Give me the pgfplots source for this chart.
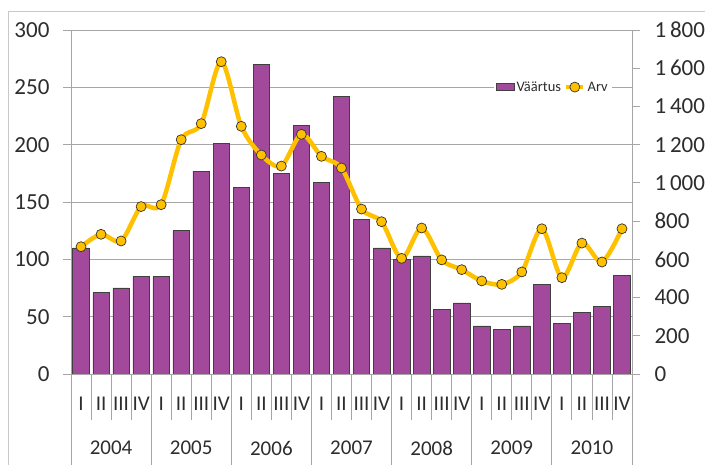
\documentclass[border=0pt]{standalone}
\usepackage{pgfplots}
\pgfplotsset{compat=1.18}
\usepackage{fontspec}
\setmainfont{Carlito}
\definecolor{barc}{RGB}{163,73,155}
\definecolor{linec}{RGB}{255,192,0}
\definecolor{gridc}{RGB}{166,166,166}
\definecolor{framec}{RGB}{200,200,200}
\definecolor{txt}{RGB}{45,45,45}
\begin{document}
\begin{tikzpicture}
\begin{axis}[
  at={(0,0)}, anchor=south west,
  scale only axis, width=561pt, height=344pt,
  xmin=-0.5, xmax=27.5, ymin=0, ymax=300,
  ybar, bar width=16.5pt,
  ytick={0,50,...,300},
  ymajorgrids, grid style={gridc, line width=0.8pt},
  axis line style={gridc, line width=0.8pt},
  ytick pos=left, xtick pos=bottom,
  tick align=outside,
  major tick length=8pt,
  minor tick length=46pt,
  tick style={gridc, line width=0.8pt},
  major x tick style={draw=none},
  xtick={0,...,27},
  xticklabels={I,II,III,IV,I,II,III,IV,I,II,III,IV,I,II,III,IV,I,II,III,IV,I,II,III,IV,I,II,III,IV},
  minor xtick={-0.5,0.5,...,27.5},
  xticklabel style={anchor=center, yshift=-22pt, font=\fontsize{21}{24}\selectfont, text=txt},
  yticklabel style={font=\fontsize{23}{26}\selectfont, text=txt, xshift=-10pt},
  /pgf/number format/assume math mode=true,
]
\addplot[fill=barc, draw=black!75, line width=0.6pt] coordinates {
(0,110) (1,71) (2,75) (3,85) (4,85) (5,125) (6,177) (7,201) (8,163) (9,270)
(10,175) (11,217) (12,167) (13,242) (14,135) (15,110) (16,100) (17,103) (18,56) (19,62)
(20,42) (21,39) (22,42) (23,78) (24,44) (25,54) (26,59) (27,86)};
\end{axis}
\begin{axis}[
  at={(0,0)}, anchor=south west,
  scale only axis, width=561pt, height=344pt,
  xmin=-0.5, xmax=27.5, ymin=0, ymax=1800,
  axis x line=none, axis y line*=right,
  ytick={0,200,...,1800},
  axis line style={gridc, line width=0.8pt},
  tick align=outside, major tick length=8pt,
  tick style={gridc, line width=0.8pt},
  yticklabel style={font=\fontsize{23}{26}\selectfont, text=txt, xshift=11pt},
  /pgf/number format/assume math mode=true,
  /pgf/number format/1000 sep={\hspace{0.17em}},
  legend columns=2,
  legend style={at={(0.859,0.834)}, anchor=center, draw=none, fill=white,
    font=\fontsize{14.5}{16}\selectfont, text=txt, inner xsep=2pt, inner ysep=1pt,
    /tikz/every even column/.append style={column sep=1pt}},
  clip=false,
]
\addlegendimage{legend image code/.code={\draw[fill=barc, draw=black!75, line width=0.5pt] (0pt,-3.5pt) rectangle (18pt,3.5pt);}}
\addlegendentry{Väärtus}
\addplot[smooth, color=linec, line width=4.5pt, mark=*, mark size=5pt,
  mark options={fill=linec, draw=black!80, line width=0.7pt}] coordinates {
(0,666) (1,731) (2,696) (3,876) (4,886) (5,1226) (6,1310) (7,1634) (8,1296) (9,1146)
(10,1088) (11,1254) (12,1139) (13,1078) (14,863) (15,797) (16,605) (17,764) (18,597) (19,546)
(20,487) (21,469) (22,534) (23,760) (24,504) (25,685) (26,586) (27,760)};
\addlegendentry{Arv}
\end{axis}
\foreach \i in {0,...,7} {
  \draw[gridc, line width=0.8pt] (\i*80.142857pt,0) -- (\i*80.142857pt,-91pt);
}
\foreach \y [count=\i from 0] in {2004,2005,2006,2007,2008,2009,2010} {
  \node[text=txt, font=\fontsize{21}{24}\selectfont] at (\i*80.142857pt+40.07pt,-74pt) {\y};
}
\draw[framec, line width=0.8pt] (-63pt,-91pt) -- (-63pt,363pt) -- (634pt,363pt);
\pgfresetboundingbox
\path (-71pt,-91pt) rectangle (634pt,374pt);
\end{tikzpicture}
\end{document}
